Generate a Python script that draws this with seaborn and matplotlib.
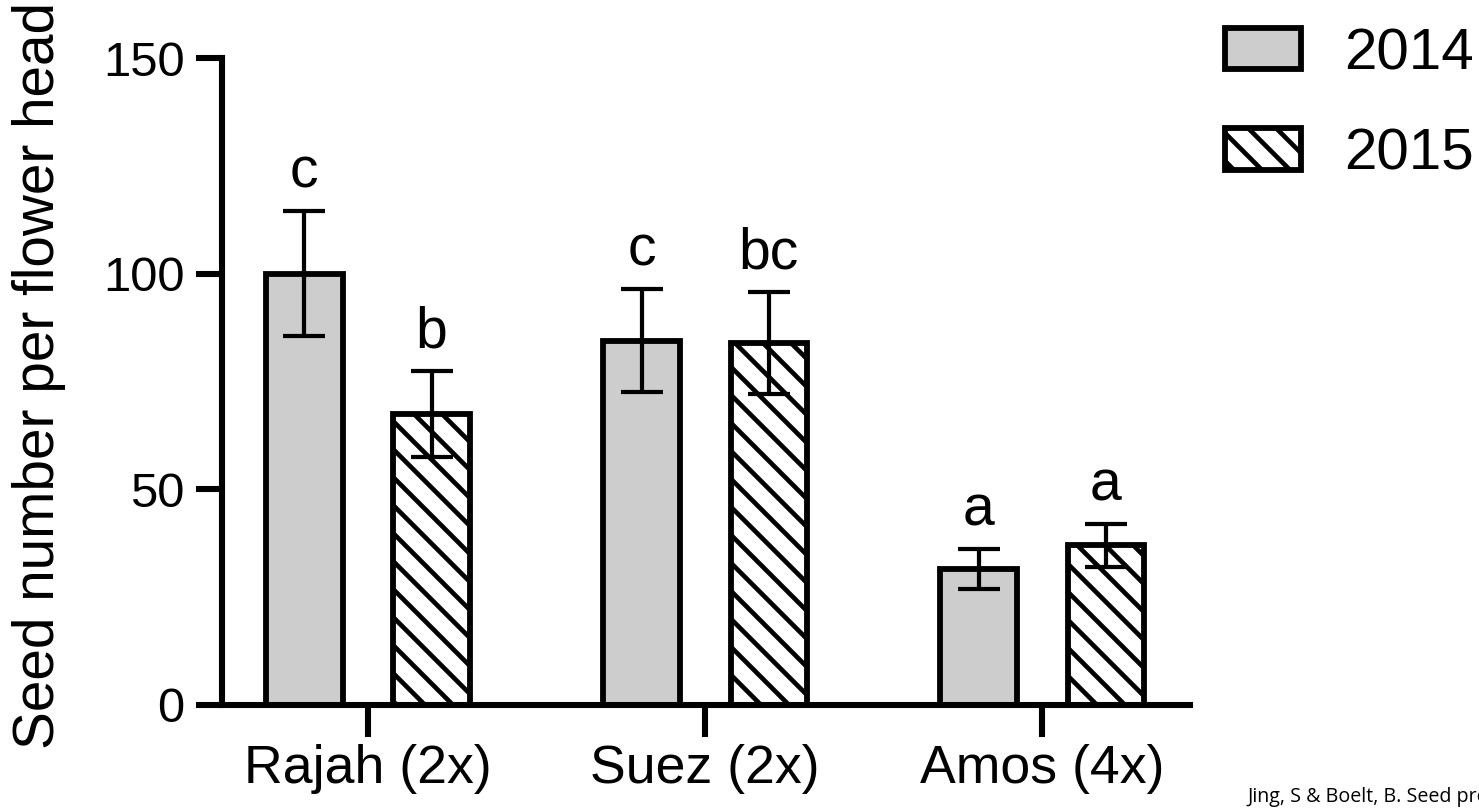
"""Seed number per flower head for three ryegrass varieties, 2014 vs 2015."""

import matplotlib

matplotlib.use("Agg")

import matplotlib.pyplot as plt
import pandas as pd
import seaborn as sns


VARIETIES = ["Rajah (2x)", "Suez (2x)", "Amos (4x)"]
YEARS = ["2014", "2015"]
SEED_2014 = [100.0, 84.5, 31.5]
SEED_2015 = [67.5, 84.0, 37.0]
ERR_2014 = [14.5, 12.0, 4.7]
ERR_2015 = [10.0, 11.8, 5.0]
LETTERS_2014 = ["c", "c", "a"]
LETTERS_2015 = ["b", "bc", "a"]
Y_TICKS = [0, 50, 100, 150]
Y_LABEL = "Seed number per flower head"
CITATION = "Jing, S & Boelt, B. Seed production of perennial ryegrass"

DPI = 168
GRAY = "#cdcdcd"


def build_frame() -> pd.DataFrame:
    rows = []
    for year, values in zip(YEARS, [SEED_2014, SEED_2015]):
        for variety, value in zip(VARIETIES, values):
            rows.append({"variety": variety, "year": year, "seeds": value})
    return pd.DataFrame(rows)


def main() -> None:
    sns.set_style("ticks")
    plt.rcParams.update({
        "font.family": ["Liberation Sans", "DejaVu Sans"],
        "hatch.linewidth": 2.0,
        "hatch.color": "black",
        "text.color": "black",
        "axes.labelcolor": "black",
        "axes.edgecolor": "black",
        "xtick.color": "black",
        "ytick.color": "black",
    })

    df = build_frame()

    fig = plt.figure(figsize=(1479 / DPI, 808 / DPI), dpi=DPI)
    ax = fig.add_axes([222 / 1479, 1 - 705 / 808, 968 / 1479, 647 / 808])

    sns.barplot(
        data=df,
        x="variety",
        y="seeds",
        hue="year",
        order=VARIETIES,
        hue_order=YEARS,
        palette=[GRAY, "white"],
        saturation=1,
        width=0.755,
        gap=0.40,
        errorbar=None,
        edgecolor="black",
        linewidth=2.5,
        legend=False,
        ax=ax,
    )

    for bar in ax.containers[1]:
        bar.set_hatch("\\\\")

    # error bars and significance letters
    for container, means, errs, letters in zip(
        ax.containers,
        [SEED_2014, SEED_2015],
        [ERR_2014, ERR_2015],
        [LETTERS_2014, LETTERS_2015],
    ):
        xs = [p.get_x() + p.get_width() / 2 for p in container]
        ax.errorbar(
            xs, means, yerr=errs, fmt="none", ecolor="black",
            elinewidth=1.8, capsize=9, capthick=1.8, zorder=4,
        )
        for x, m, e, letter in zip(xs, means, errs, letters):
            ax.annotate(
                letter, (x, m + e), xytext=(0, 10), textcoords="offset points",
                ha="center", va="baseline", fontsize=24.5,
            )

    ax.set_ylim(0, 150)
    ax.set_xlim(-0.433, 2.438)
    ax.set_yticks(Y_TICKS)
    ax.set_xlabel("")
    ax.set_ylabel(Y_LABEL, fontsize=24.3)
    ax.yaxis.set_label_coords(-0.161, 0.51)

    sns.despine(ax=ax)
    for side in ["left", "bottom"]:
        ax.spines[side].set_linewidth(2.6)
    ax.tick_params(axis="y", length=11, width=2.6, pad=5, labelsize=21)
    ax.tick_params(axis="x", length=13.5, width=2.6, pad=3, labelsize=23)

    fig.legend(
        handles=list(ax.containers),
        labels=YEARS,
        loc="upper left",
        bbox_to_anchor=(1225 / 1479, 1 - 27 / 808),
        frameon=False,
        fontsize=25,
        borderpad=0,
        borderaxespad=0,
        handlelength=1.3,
        handleheight=0.72,
        handletextpad=0.75,
        labelspacing=0.8,
    )

    fig.text(
        1248 / 1479, 1 - 802 / 808, CITATION,
        fontsize=8.4, family=["Open Sans", "DejaVu Sans"], va="baseline",
    )

    fig.savefig("out.png", dpi=DPI)
    plt.close(fig)


if __name__ == "__main__":
    main()
